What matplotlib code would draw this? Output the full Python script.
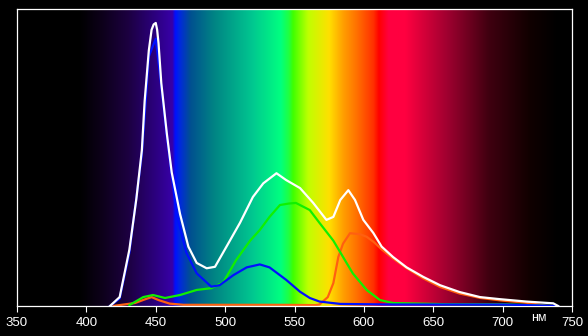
import numpy as np
import matplotlib.pyplot as plt
from matplotlib.colors import LinearSegmentedColormap

# spectrum curves (wavelength nm, relative intensity)
white_nm = [417, 424, 431, 436, 440, 442, 445, 447, 448.5, 450, 451, 452, 454, 458, 461.5,
            467.5, 473.5, 479.5, 486.7, 492.7, 501, 510.7, 520, 527.5, 537, 544, 554, 563.5,
            573, 578, 583, 588.8, 593.6, 599.6, 606.8, 612.8, 621, 630.8, 642.8, 654.9, 669,
            683.7, 698, 717, 736.5, 740]
white_val = [0.0, 0.03, 0.19, 0.36, 0.525, 0.69, 0.86, 0.93, 0.948, 0.953, 0.93, 0.885, 0.75,
             0.58, 0.45, 0.31, 0.20, 0.145, 0.127, 0.132, 0.20, 0.28, 0.367, 0.413, 0.447,
             0.424, 0.397, 0.347, 0.29, 0.30, 0.357, 0.39, 0.357, 0.29, 0.246, 0.20, 0.165,
             0.13, 0.098, 0.07, 0.047, 0.03, 0.023, 0.015, 0.009, 0.0]

blue_nm = [417, 424, 431, 440, 445, 450, 454, 458, 461.5, 465, 472, 479.5, 490, 496, 506,
           515.5, 525, 532, 544, 554, 561, 568, 583, 620, 700, 740]
blue_val = [0.0, 0.025, 0.18, 0.51, 0.84, 0.90, 0.74, 0.57, 0.44, 0.31, 0.18, 0.11, 0.065,
            0.07, 0.104, 0.13, 0.14, 0.13, 0.088, 0.048, 0.027, 0.015, 0.007, 0.005, 0.005,
            0.0]

green_nm = [431, 441, 448, 456.7, 467.5, 479.5, 490, 498.7, 508, 518, 525, 532, 539.5, 546,
            551, 561, 568, 578, 585, 592, 602, 611.6, 621, 660, 700, 735]
green_val = [0.003, 0.03, 0.037, 0.027, 0.037, 0.054, 0.06, 0.08, 0.155, 0.22, 0.256, 0.30,
             0.34, 0.345, 0.347, 0.323, 0.28, 0.22, 0.165, 0.11, 0.054, 0.02, 0.01, 0.006,
             0.006, 0.0]

red_nm = [419, 435, 442, 447, 452, 460, 470, 540, 565, 568, 574, 578, 581.6, 585, 590, 597,
          602, 607, 613, 621, 631, 642.8, 655, 669, 684, 700, 717, 733]
red_val = [0.0, 0.01, 0.022, 0.03, 0.02, 0.008, 0.004, 0.004, 0.003, 0.005, 0.03, 0.077,
           0.165, 0.21, 0.245, 0.242, 0.233, 0.216, 0.19, 0.16, 0.127, 0.093, 0.064, 0.042,
           0.027, 0.018, 0.011, 0.0]

xticks = [350, 400, 450, 500, 550, 600, 650, 700, 750]

# background spectrum stops
bg_stops = [(350, '#000000'), (395, '#000000'), (410, '#0c0018'), (430, '#1c0040'),
            (450, '#2c0080'), (462, '#3800a8'), (464, '#0010ff'), (467, '#0028e0'),
            (475, '#005090'), (492, '#008484'), (520, '#00c890'), (540, '#00ff80'),
            (546, '#20ff40'), (549, '#40ff00'), (560, '#c0ff00'), (575, '#ffe000'),
            (585, '#ffa000'), (595, '#ff7000'), (607, '#ff3000'), (611, '#ff0000'),
            (618, '#ff0040'), (630, '#ff0040'), (660, '#a00030'), (690, '#400010'),
            (720, '#100000'), (740, '#000000'), (750, '#000000')]

lo, hi = 350, 750
cmap = LinearSegmentedColormap.from_list(
    'spec', [((w - lo) / (hi - lo), c) for w, c in bg_stops], N=1024)

fig = plt.figure(figsize=(5.88, 3.36), dpi=100, facecolor='black')
ax = fig.add_axes([17 / 588, 30 / 336, 555 / 588, 297 / 336])
ax.set_facecolor('black')

grad = np.linspace(0, 1, 1024).reshape(1, -1)
ax.imshow(grad, cmap=cmap, aspect='auto', extent=[lo, hi, 0, 1], zorder=0)

ax.plot(red_nm, red_val, color='#ff6010', lw=1.6, zorder=2)
ax.plot(green_nm, green_val, color='#10f000', lw=1.6, zorder=3)
ax.plot(blue_nm, blue_val, color='#0010ff', lw=1.6, zorder=4)
ax.plot(white_nm, white_val, color='white', lw=1.6, zorder=5)

ax.set_xlim(lo, hi)
ax.set_ylim(0, 1)
ax.set_yticks([])
ax.set_xticks(xticks)
ax.tick_params(axis='x', colors='white', length=4, width=0.8, pad=4, labelsize=9.5)
for lab in ax.get_xticklabels():
    lab.set_family('Liberation Sans')
for s in ax.spines.values():
    s.set_color('white')
    s.set_linewidth(0.9)

ax.text(726, -0.04, 'нм', color='white', fontsize=9, family='Liberation Sans',
        ha='center', va='center', clip_on=False)

fig.savefig('out.png', dpi=100, facecolor='black')
